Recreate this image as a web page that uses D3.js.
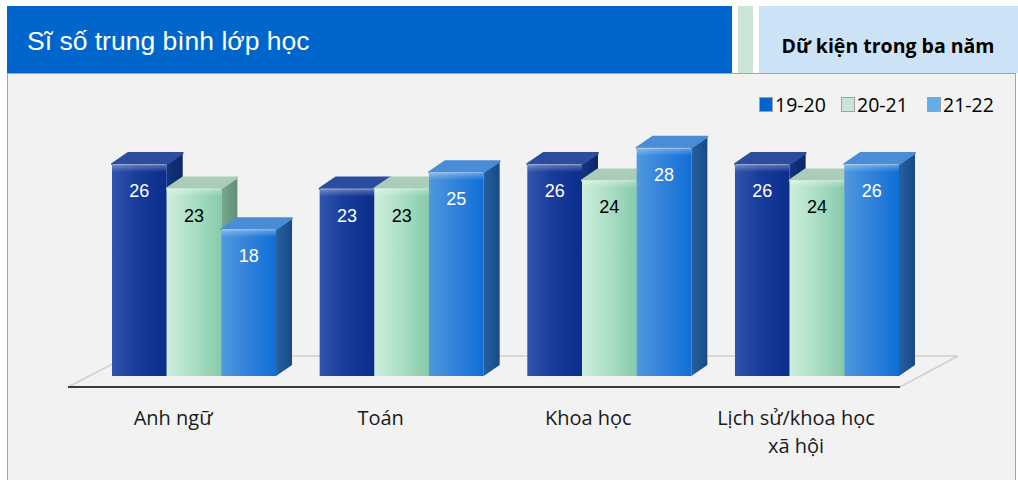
<!DOCTYPE html>
<html>
<head>
<meta charset="utf-8">
<script src="https://cdn.jsdelivr.net/npm/d3@7"></script>
<style>
  html, body { margin: 0; padding: 0; background: #fff; }
  svg { display: block; }
</style>
</head>
<body>
<div id="chart"></div>
<script>
const categories = ["Anh ngữ", "Toán", "Khoa học", "Lịch sử/khoa học\nxã hội"];
const seriesNames = ["19-20", "20-21", "21-22"];
const values1920 = [26, 23, 26, 26];
const values2021 = [23, 23, 24, 24];
const values2122 = [18, 25, 28, 26];
const yDomain = [0, 30];

(function() {
  const width = 1018;
  const height = 480;
  const depth = { dx: 16, dy: -11 };

  const svg = d3.select("#chart")
    .append("svg")
    .attr("width", width)
    .attr("height", height);

  const defs = svg.append("defs");

  // colour sets per series: front gradient, side, top, legend swatch, label colour
  const styles = [
    { front: ["#2f55ab", "#183c9c", "#0b2d8c"], side: ["#14357e", "#0a2766"], top: "#2c4c9f", swatch: "#0066cc", label: "#fff" },
    { front: ["#cdeedd", "#aee0c6", "#86cba9"], side: ["#7aa88f", "#5f8f76"], top: "#a9cdb9", swatch: "#c9e6d8", label: "#000" },
    { front: ["#5199de", "#3383da", "#0f6ed6"], side: ["#2660a0", "#184a85"], top: "#4a8dd6", swatch: "#62aee6", label: "#fff" }
  ];

  styles.forEach((s, i) => {
    const gf = defs.append("linearGradient").attr("id", "front" + i)
      .attr("x1", 0).attr("x2", 1).attr("y1", 0).attr("y2", 0);
    gf.append("stop").attr("offset", "0%").attr("stop-color", s.front[0]);
    gf.append("stop").attr("offset", "45%").attr("stop-color", s.front[1]);
    gf.append("stop").attr("offset", "100%").attr("stop-color", s.front[2]);
    const gs = defs.append("linearGradient").attr("id", "side" + i)
      .attr("x1", 0).attr("x2", 1).attr("y1", 0).attr("y2", 0);
    gs.append("stop").attr("offset", "0%").attr("stop-color", s.side[0]);
    gs.append("stop").attr("offset", "100%").attr("stop-color", s.side[1]);
  });

  const shine = defs.append("linearGradient").attr("id", "shine")
    .attr("x1", 0).attr("x2", 0).attr("y1", 0).attr("y2", 1);
  shine.append("stop").attr("offset", "0%").attr("stop-color", "#fff").attr("stop-opacity", 0.35);
  shine.append("stop").attr("offset", "100%").attr("stop-color", "#fff").attr("stop-opacity", 0);

  // Header
  svg.append("rect").attr("x", 7).attr("y", 6).attr("width", 725).attr("height", 67).attr("fill", "#0066cc");
  svg.append("rect").attr("x", 738).attr("y", 6).attr("width", 15).attr("height", 67).attr("fill", "#c9e6d8");
  svg.append("rect").attr("x", 759).attr("y", 6).attr("width", 259).attr("height", 67).attr("fill", "#cce2f6");

  svg.append("text")
    .attr("x", 27).attr("y", 50)
    .attr("font-family", "Liberation Sans, Arial, sans-serif")
    .attr("font-size", "26.5px")
    .attr("fill", "#fff")
    .text("Sĩ số trung bình lớp học");

  svg.append("text")
    .attr("x", 888).attr("y", 53)
    .attr("text-anchor", "middle")
    .attr("font-family", "Open Sans, Noto Sans, sans-serif")
    .attr("font-weight", "bold")
    .attr("font-size", "19.5px")
    .attr("fill", "#000")
    .text("Dữ kiện trong ba năm");

  // Panel
  svg.append("rect")
    .attr("x", 7.5).attr("y", 73.5).attr("width", 1008).attr("height", 420)
    .attr("fill", "#f2f2f2").attr("stroke", "#a6a6a6");

  // Scales
  const x0 = d3.scaleBand()
    .domain(categories)
    .range([112, 899])
    .paddingInner(0.21)
    .paddingOuter(0);

  const x1 = d3.scaleBand()
    .domain(seriesNames)
    .range([0, x0.bandwidth()]);

  const y = d3.scaleLinear().domain(yDomain).range([376, 131.5]);

  // Floor
  const [rx0, rx1] = x0.range();
  const fy = y(0) + 11;
  const floor = svg.append("g");
  floor.append("path")
    .attr("d", `M${rx0 - 44},${fy} L${rx1 + 1},${fy} L${rx1 + 59},${fy - 31} L${rx0 + 16},${fy - 31} Z`)
    .attr("fill", "#f2f2f2")
    .attr("stroke", "#d0d0d0")
    .attr("stroke-width", 1.5);
  floor.append("line")
    .attr("x1", rx0 - 44).attr("x2", rx1 + 1)
    .attr("y1", fy).attr("y2", fy)
    .attr("stroke", "#3a3a3a").attr("stroke-width", 2);

  const series = [values1920, values2021, values2122];
  const rows = [];
  categories.forEach((c, ci) => {
    seriesNames.forEach((s, si) => {
      rows.push({ cat: c, s: s, si: si, v: series[si][ci] });
    });
  });

  const bars = svg.append("g").selectAll("g.bar")
    .data(rows)
    .join("g")
    .attr("class", "bar");

  bars.each(function(d) {
    const g = d3.select(this);
    const bx = x0(d.cat) + x1(d.s);
    const bw = x1.bandwidth();
    const top = y(d.v);
    const base = y(0);
    const st = styles[d.si];
    const dx = depth.dx, dy = depth.dy;

    // side face
    g.append("path")
      .attr("d", `M${bx + bw},${top} L${bx + bw + dx},${top + dy} L${bx + bw + dx},${base + dy} L${bx + bw},${base} Z`)
      .attr("fill", `url(#side${d.si})`);
    // top face
    g.append("path")
      .attr("d", `M${bx},${top} L${bx + dx},${top + dy} L${bx + bw + dx},${top + dy} L${bx + bw},${top} Z`)
      .attr("fill", st.top)
      .attr("stroke", st.top)
      .attr("stroke-linejoin", "round")
      .attr("stroke-width", 2);
    // front face
    g.append("rect")
      .attr("x", bx).attr("y", top)
      .attr("width", bw).attr("height", base - top)
      .attr("fill", `url(#front${d.si})`);
    g.append("rect")
      .attr("x", bx).attr("y", top)
      .attr("width", bw).attr("height", 8)
      .attr("fill", "url(#shine)");
    g.append("line")
      .attr("x1", bx + 1).attr("x2", bx + bw - 1)
      .attr("y1", top + 0.5).attr("y2", top + 0.5)
      .attr("stroke", "#fff").attr("stroke-opacity", 0.35);

    g.append("text")
      .attr("x", bx + bw / 2)
      .attr("y", top + 27)
      .attr("text-anchor", "middle")
      .attr("dominant-baseline", "central")
      .attr("font-family", "Liberation Sans, Arial, sans-serif")
      .attr("font-size", "18px")
      .attr("fill", st.label)
      .text(d.v);
  });

  // Category labels
  const catLabels = svg.append("g");
  categories.forEach(c => {
    const cx = x0(c) + x0.bandwidth() / 2 - 21;
    const t = catLabels.append("text")
      .attr("x", cx)
      .attr("y", 425)
      .attr("text-anchor", "middle")
      .attr("font-family", "Open Sans, Noto Sans, sans-serif")
      .attr("font-size", "20px")
      .attr("fill", "#1a1a1a");
    c.split("\n").forEach((line, i) => {
      t.append("tspan")
        .attr("x", cx)
        .attr("dy", i === 0 ? 0 : 28)
        .text(line);
    });
  });

  // Legend
  const legendX = [759, 841, 927];
  const legend = svg.append("g");
  seriesNames.forEach((s, i) => {
    legend.append("rect")
      .attr("x", legendX[i] + 0.5).attr("y", 97.5)
      .attr("width", 13).attr("height", 14)
      .attr("fill", styles[i].swatch)
      .attr("stroke", "#a0a0a0");
    legend.append("text")
      .attr("x", legendX[i] + 16).attr("y", 112)
      .attr("font-family", "Open Sans, Noto Sans, sans-serif")
      .attr("font-size", "19.5px")
      .attr("fill", "#000")
      .text(s);
  });
})();
</script>
</body>
</html>
